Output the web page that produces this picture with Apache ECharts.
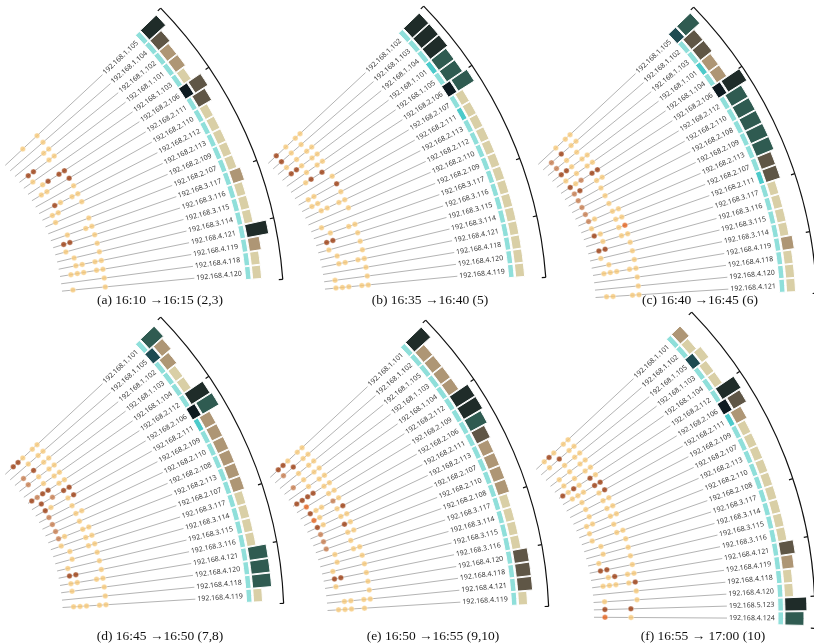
<!DOCTYPE html>
<html>
<head>
<meta charset="utf-8">
<script src="https://cdn.jsdelivr.net/npm/echarts@6/dist/echarts.min.js"></script>
<style>
html, body { margin: 0; background: #fff; }
#chart-panel { width: 814px; height: 643px; }
</style>
</head>
<body>
<div id="chart-panel"></div>
<script>
// ---- data, one set per panel ----
var captions = [
    '(a) 16:10 \u219216:15 (2,3)',
    '(b) 16:35 \u219216:40 (5)',
    '(c) 16:40 \u219216:45 (6)',
    '(d) 16:45 \u219216:50 (7,8)',
    '(e) 16:50 \u219216:55 (9,10)',
    '(f) 16:55 \u2192 17:00 (10)'
];

var ipsA = ['1.105','1.104','1.102','1.101','1.103','2.106','2.111','2.110','2.112','2.113','2.109','2.107','3.117','3.116','3.115','3.114','4.121','4.119','4.118','4.120'];
var ipsB = ['1.102','1.103','1.104','1.101','1.105','2.106','2.107','2.111','2.113','2.112','2.110','2.109','3.117','3.116','3.115','3.114','4.121','4.118','4.120','4.119'];
var ipsC = ['1.105','1.102','1.103','1.101','1.104','2.106','2.112','2.110','2.108','2.109','2.113','2.107','2.111','3.117','3.116','3.115','3.114','4.119','4.118','4.120','4.121'];
var ipsD = ['1.101','1.105','1.102','1.103','1.104','2.112','2.106','2.111','2.109','2.110','2.108','2.113','2.107','3.117','3.114','3.115','3.116','4.121','4.120','4.118','4.119'];
var ipsE = ['1.101','1.102','1.105','1.103','1.104','2.112','2.109','2.106','2.111','2.113','2.107','2.110','2.108','3.117','3.114','3.115','3.116','4.120','4.118','4.121','4.119'];
var ipsF = ['1.101','1.102','1.105','1.103','1.104','2.112','2.106','2.111','2.109','2.107','2.113','2.110','2.108','3.117','3.114','3.115','3.116','4.121','4.119','4.118','4.120','5.123','4.124'];

// host groups along the outer bracket
var groupsA = [5, 7, 4, 4];
var groupsB = [5, 7, 4, 4];
var groupsC = [5, 8, 4, 4];
var groupsD = [5, 8, 4, 4];
var groupsE = [5, 8, 4, 4];
var groupsF = [5, 8, 4, 4, 2];

// inner ring state: n normal, d dark teal, k black, g slate
var tealA = 'nnnnnknnnnnnnnnnnnnn';
var tealB = 'nnndnkndnnnnnnnnnnnn';
var tealC = 'gnndnknnnnnndnnnnnnnn';
var tealD = 'ngnnnnkdnnnnnnnnnnnnn';
var tealE = 'nnnnnnnnnnnnnnnnnnnnn';
var tealF = 'nngnnnkdnnnnnnnnnnnnnnn';

// outer box level: L light, T tan, B brown, G green, K black
var boxA = 'KBTTLBBLLLLLTLLLKTLL';
var boxB = 'KKKGGGLLLLLLLLLLLLLL';
var boxC = 'GBBTTKGGGGGBBLLLLTLLL';
var boxD = 'GTTLLKGTTTTTTLLLLGGGL';
var boxE = 'KTTTTKKGBTTTTLLLLBBBL';
var boxF = 'TLLLLKBTLLLLLLLLLBTLLKG';

// events per host, one char per time slot: l light, m medium, d dark, o orange
var dotsA = ['...l..l','......l','.....ll','.dd..ll','.l.....','..ld.dd','.ll...d','......l','..dl.ll','.ll...l',
             '.l.....','......l','..l..ll','.dd...l','.l....l','..l...l','..ll.ll','.lll.ll','......l','.l....l'];
var dotsB = ['.d.l.ll','.d.l.l.','.l.l.ll','.ddl.ll','...l.ll','..ld.d.','......l','.ll...d','.ll...l','..ll.ll',
             '......l','.l.....','..l..ll','.dd...l','.l....l','..l...l','..ll.ll','......l','.l....l','.lll.ll'];
var dotsC = ['...l.ll','.m.d.ll','.m.l.l.','.ddl.ll','.l.l.ll','.dlm.dd','.md..ll','.m...l.','.m...l.','.m...l.',
             '.ml..ll','.l...ll','.dl..lo','..l..ll','.dd...l','.l....l','..l...l','.lll.ll','......l','......l','.ll..ll'];
var dotsD = ['.ddl.ll','...l.ll','.m.d.ll','.m.l.ll','...l.ll','dmdd.ll','.d.m.dd','.dl..ld','.m...l.','.m...ll',
             '.m...l.','.ml..ll','.l...ll','..l..ll','..l...l','.l....l','.dd...l','.ll..ll','.l....l','......l','.lll.ll'];
var dotsE = ['.ddl.ll','.m.d.ll','...l.ll','.m.l.ll','...l.ll','dddd.ll','.o...ll','.dll.ml','.ol..ld','.dl..ll',
             '.m...dl','.m...ll','.m...l.','..l..ll','..l...l','.l....l','.dd...l','.l....l','......l','..ll.ll','.lll.l.'];
var dotsF = ['.ldl.ll','.l.d.ll','...l.ll','.l.l.ll','.l.l.ll','dldl.dl','.lll.dd','..l..ld','..l..ll','..l..ll',
             '.ll..ll','.l...l.','.l...ll','..l...l','..l...l','.l....l','.dd...l','..ld.ll','.lll.ld','......l',
             '.l....l','.d...d.','.o...l.'];

// ---- look ----
var panelCenters = [[-152, 312], [111, 310], [381, 311], [-152, 621], [113, 624], [379, 616]];
var captionPos = [[155, 288], [425, 288], [695, 288], [155, 624], [428, 624], [698, 624]];

var STEP = 1.97;        // degrees between neighbouring hosts
var TOP_ANGLE = 43;
var LINE_R = [215, 348];
var LABEL_R = 350;
var TEAL_R = 399;
var SLOT_R0 = 219.5, SLOT_W = 6.5;
var BRACKET_R = 436;

var tealColors = { n: '#8fdfda', d: '#4ccaca', k: '#0e1b21', g: '#1e4b52' };
var boxColors = { L: '#d9cfa6', T: '#ae9675', B: '#5f5646', G: '#2f5b51', K: '#1f2c29' };
var boxSize = { L: 9, T: 12, B: 15, G: 19, K: 22 };
var dotColors = { l: '#f6c878', m: '#c67a4c', d: '#9b3b0e', o: '#e3621c' };

var panels = [
    { ips: ipsA, groups: groupsA, teal: tealA, box: boxA, dots: dotsA },
    { ips: ipsB, groups: groupsB, teal: tealB, box: boxB, dots: dotsB },
    { ips: ipsC, groups: groupsC, teal: tealC, box: boxC, dots: dotsC },
    { ips: ipsD, groups: groupsD, teal: tealD, box: boxD, dots: dotsD },
    { ips: ipsE, groups: groupsE, teal: tealE, box: boxE, dots: dotsE },
    { ips: ipsF, groups: groupsF, teal: tealF, box: boxF, dots: dotsF }
];

function ang(c, p) {
    return Math.atan2(p[1] - c[1], p[0] - c[0]);
}
function dist(c, p) {
    return Math.sqrt((p[0] - c[0]) * (p[0] - c[0]) + (p[1] - c[1]) * (p[1] - c[1]));
}
function sector(api, c, i, v0, v1, color) {
    var a = api.coord([v1, i - 0.47]);
    var b = api.coord([v1, i + 0.47]);
    return {
        type: 'sector',
        shape: {
            cx: c[0], cy: c[1],
            r0: dist(c, api.coord([v0, i])), r: dist(c, a),
            startAngle: ang(c, a), endAngle: ang(c, b), clockwise: true
        },
        style: { fill: color, stroke: '#fff', lineWidth: 1 }
    };
}

function spokeRenderer(p) {
    return function (params, api) {
        var i = params.dataIndex;
        var c = api.coord([0, i]);
        var a0 = api.coord([LINE_R[0], i]);
        var a1 = api.coord([LINE_R[1], i]);
        var lp = api.coord([LABEL_R, i]);
        var rot = -ang(c, a1);
        var t = p.teal.charAt(i);
        var b = p.box.charAt(i);
        var tealOut = (t === 'k' || t === 'g') ? TEAL_R + 10 : TEAL_R + 5.5;
        var boxIn = tealOut + 1.5;
        return {
            type: 'group',
            children: [
                { type: 'line', shape: { x1: a0[0], y1: a0[1], x2: a1[0], y2: a1[1] },
                  style: { stroke: '#b4b4b4', lineWidth: 1 } },
                { type: 'text', x: lp[0], y: lp[1], rotation: rot,
                  style: { text: '192.168.' + p.ips[i], fill: '#3a3a3a', fontSize: 7,
                           fontFamily: 'Noto Sans', align: 'left', verticalAlign: 'middle' } },
                sector(api, c, i, TEAL_R, tealOut, tealColors[t]),
                sector(api, c, i, boxIn, boxIn + boxSize[b], boxColors[b])
            ]
        };
    };
}

function bracketRenderer(p) {
    return function (params, api) {
        var n = p.ips.length;
        var c = api.coord([0, 0]);
        var s = api.coord([BRACKET_R, -0.6]);
        var e = api.coord([BRACKET_R, n - 0.35]);
        var children = [{
            type: 'arc',
            shape: { cx: c[0], cy: c[1], r: dist(c, s), startAngle: ang(c, s), endAngle: ang(c, e), clockwise: true },
            style: { stroke: '#111', lineWidth: 1.2, fill: null }
        }];
        var marks = [-0.6, n - 0.35];
        var acc = 0;
        for (var g = 0; g < p.groups.length - 1; g++) {
            acc += p.groups[g];
            marks.push(acc - 0.5);
        }
        marks.forEach(function (m) {
            var o = api.coord([BRACKET_R, m]);
            var q = api.coord([BRACKET_R - 4, m]);
            children.push({ type: 'line', shape: { x1: o[0], y1: o[1], x2: q[0], y2: q[1] },
                            style: { stroke: '#111', lineWidth: 1.2 } });
        });
        return { type: 'group', children: children };
    };
}

function dotData(rows) {
    var out = [];
    rows.forEach(function (row, i) {
        for (var k = 0; k < row.length; k++) {
            var ch = row.charAt(k);
            if (ch !== '.') {
                out.push({ value: [SLOT_R0 + k * SLOT_W, i], itemStyle: { color: dotColors[ch] } });
            }
        }
    });
    return out;
}

var hidden = { show: false };
var polar = [], angleAxis = [], radiusAxis = [], series = [], title = [];

panels.forEach(function (p, k) {
    polar.push({ center: panelCenters[k], radius: 440 });
    angleAxis.push({
        polarIndex: k, type: 'value', min: 0, max: 360 / STEP,
        startAngle: TOP_ANGLE, clockwise: true,
        axisLine: hidden, axisTick: hidden, axisLabel: hidden, splitLine: hidden
    });
    radiusAxis.push({
        polarIndex: k, type: 'value', min: 0, max: 440,
        axisLine: hidden, axisTick: hidden, axisLabel: hidden, splitLine: hidden
    });
    series.push({
        type: 'custom', coordinateSystem: 'polar', polarIndex: k, z: 2,
        renderItem: spokeRenderer(p),
        data: p.ips.map(function (ip, i) { return [LINE_R[1], i]; })
    });
    series.push({
        type: 'custom', coordinateSystem: 'polar', polarIndex: k, z: 2,
        renderItem: bracketRenderer(p),
        data: [[BRACKET_R, 0]]
    });
    series.push({
        type: 'scatter', coordinateSystem: 'polar', polarIndex: k, z: 3,
        symbolSize: 5.5,
        itemStyle: { borderColor: 'rgba(255,255,255,0.8)', borderWidth: 0.6 },
        data: dotData(p.dots)
    });
    title.push({
        text: captions[k], left: captionPos[k][0], top: captionPos[k][1], textAlign: 'center',
        textStyle: { fontFamily: 'Liberation Serif', fontSize: 13.5, fontWeight: 'normal', color: '#111' }
    });
});

var myChart = echarts.init(document.getElementById('chart-panel'));
myChart.setOption({
    animation: false,
    backgroundColor: '#fff',
    title: title,
    polar: polar,
    angleAxis: angleAxis,
    radiusAxis: radiusAxis,
    series: series
});
</script>
</body>
</html>
